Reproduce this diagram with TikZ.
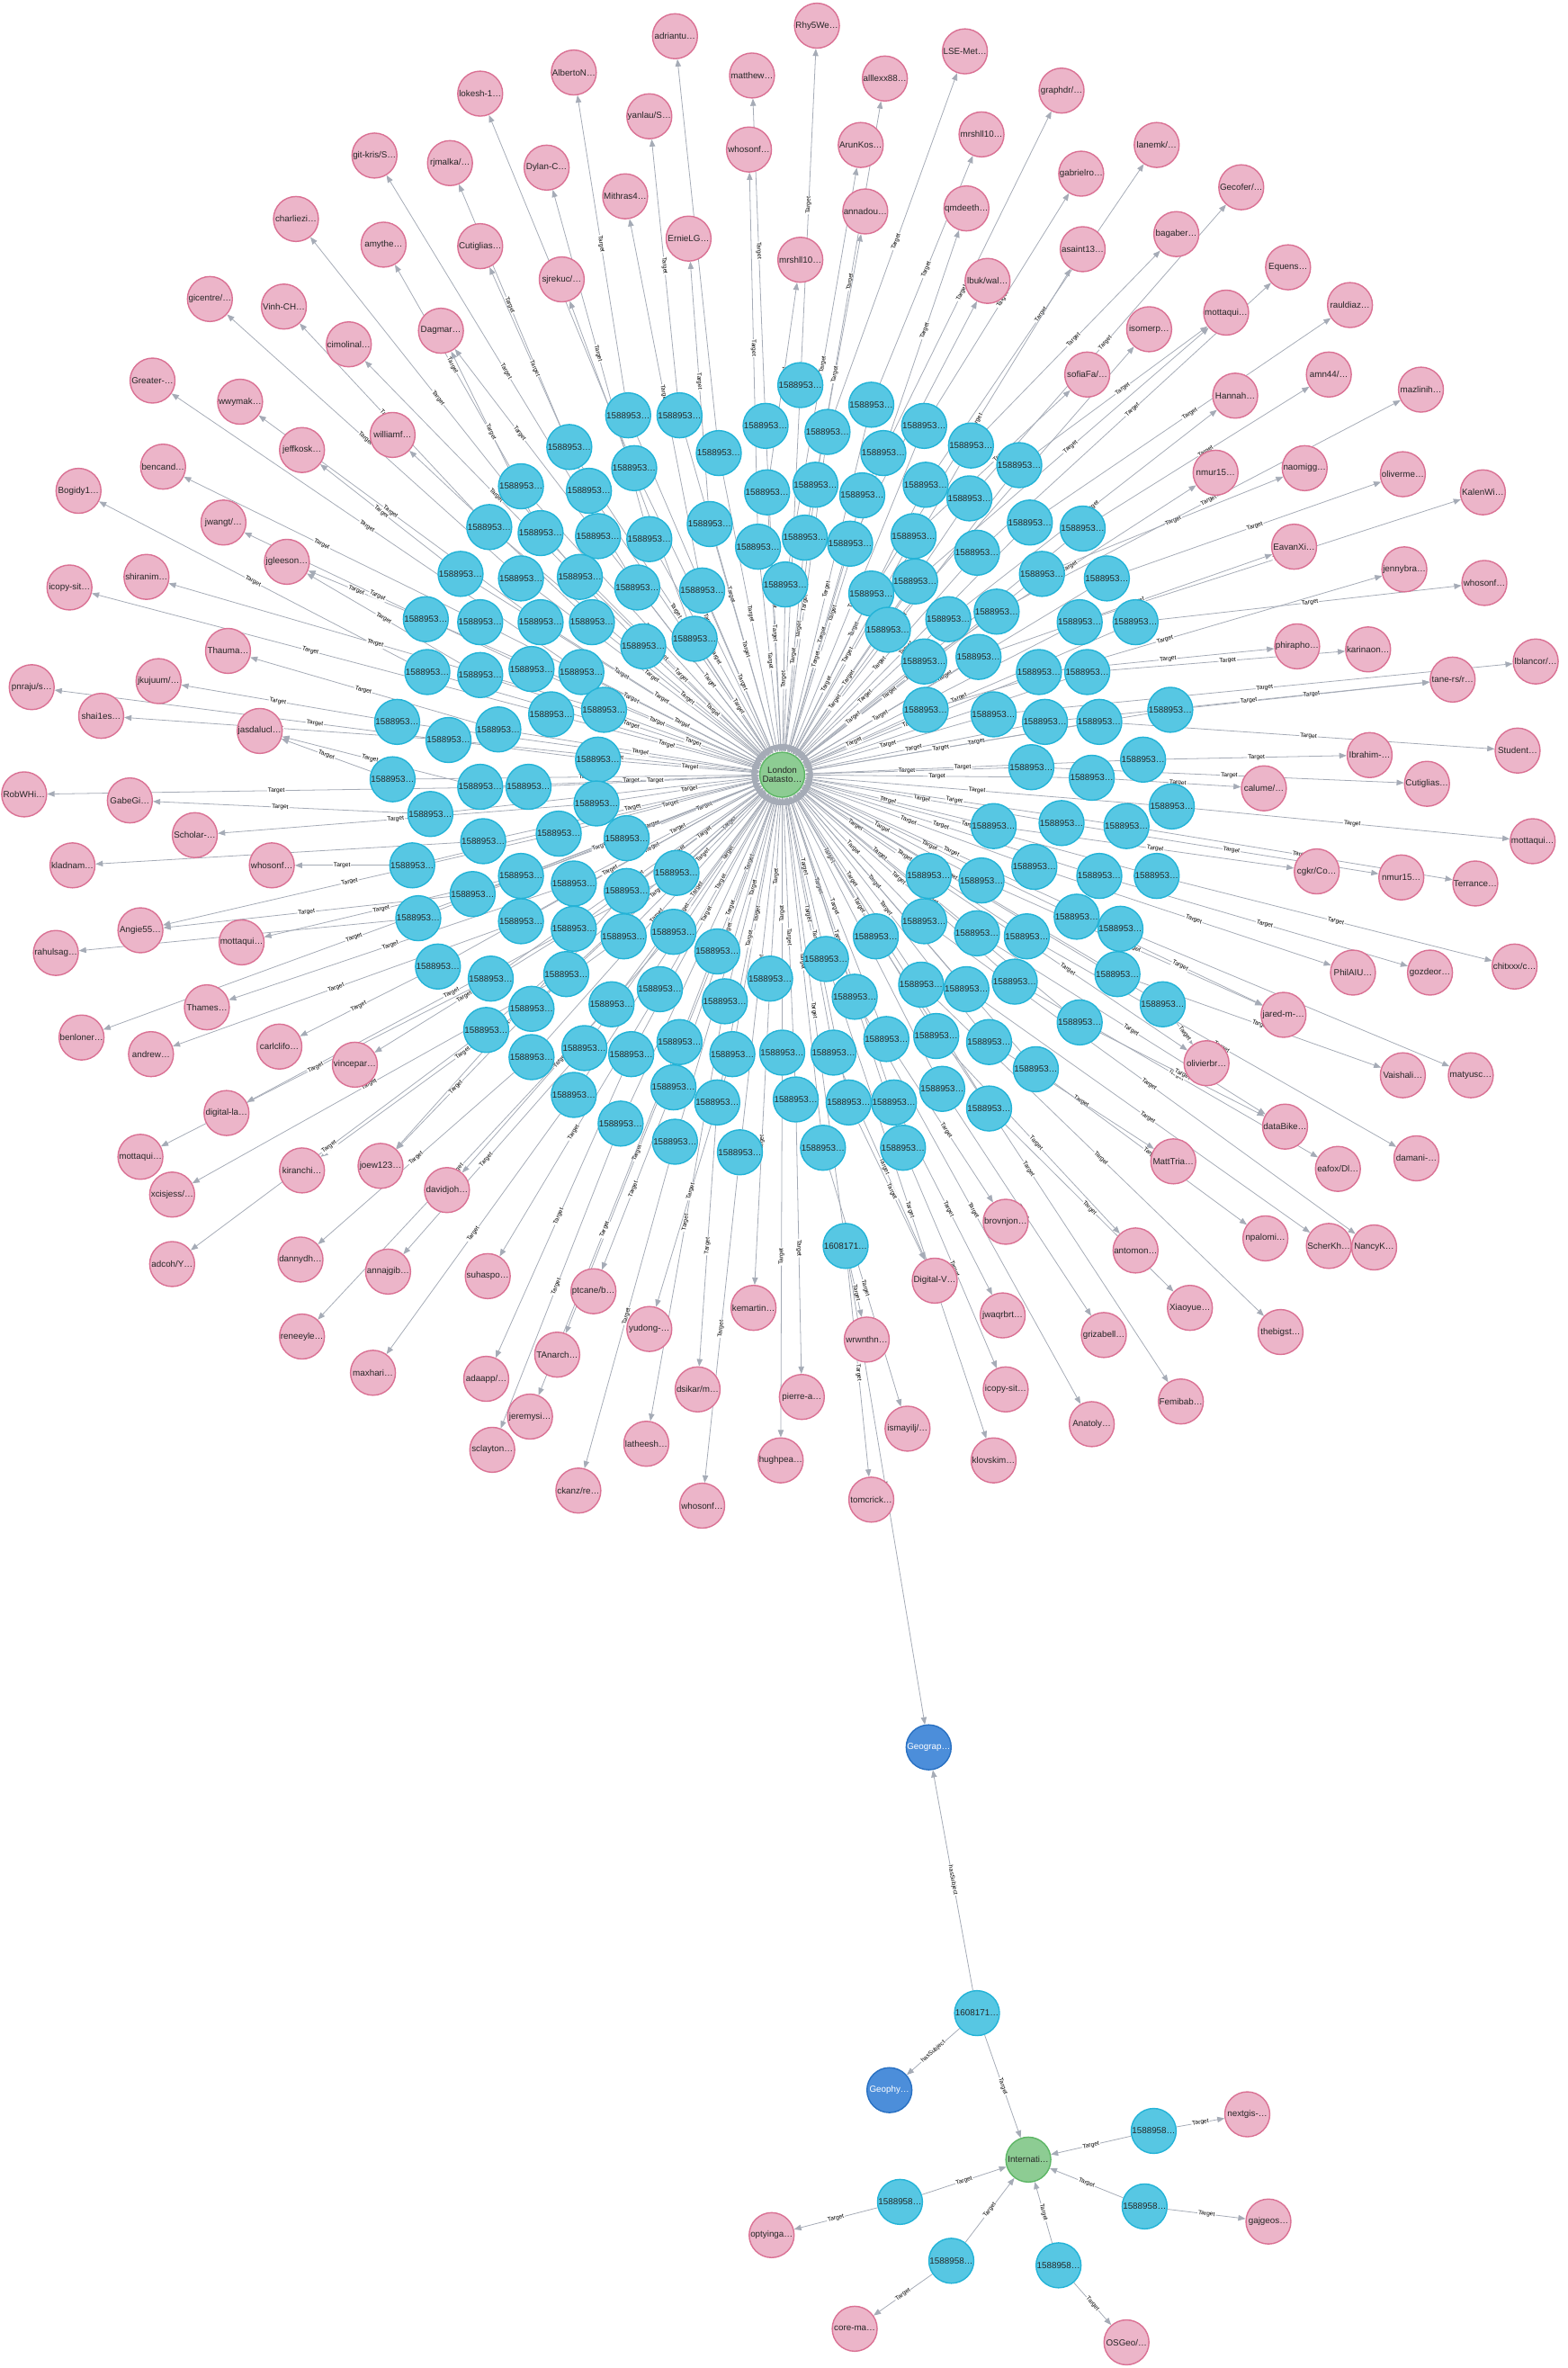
\documentclass[tikz,border=0pt]{standalone}
\usepackage{fontspec}
\setmainfont{Liberation Sans}
\usetikzlibrary{arrows.meta}
\pgfdeclarelayer{background}
\pgfsetlayers{background,main}

\definecolor{edgegray}{HTML}{A5ABB6}
\definecolor{ownerfill}{HTML}{ECB5C9}
\definecolor{ownerdraw}{HTML}{DA7194}
\definecolor{repofill}{HTML}{57C7E3}
\definecolor{repodraw}{HTML}{23B3D7}
\definecolor{hubfill}{HTML}{8DCC93}
\definecolor{hubdraw}{HTML}{5DB665}
\definecolor{topicfill}{HTML}{4C8EDA}
\definecolor{topicdraw}{HTML}{2870C2}

\begin{document}
\begin{tikzpicture}[
    x=0.0336cm, y=-0.0336cm,
    gnode/.style={
        circle,
        minimum size=1cm,
        inner sep=0pt,
        line width=0.8pt,
        font=\fontsize{5.6}{6}\selectfont,
        text=black!85
    },
    repo/.style={gnode, fill=repofill, draw=repodraw},
    owner/.style={gnode, fill=ownerfill, draw=ownerdraw},
    hub/.style={gnode, fill=hubfill, draw=hubdraw, align=center},
    topic/.style={gnode, fill=topicfill, draw=topicdraw, text=white},
    link/.style={draw=edgegray, line width=0.45pt, -{Triangle[length=4.6pt, width=3.6pt]}},
    lbl/.style={sloped, midway, fill=white, inner sep=0.5pt, text=black,
        font=\fontsize{3.8}{4}\selectfont}
]
\useasboundingbox (0,0) rectangle (1038,1568);

% Hub of the big star
\node[hub] (ld) at (518,513) {London\\Datasto…};

% Owners round the star
\foreach \x/\y/\t [count=\i] in {
    531/925/{pierre-a…}, 601/946/{ismayilj/…}, 619/848/{Digital-V…}, 658/967/{klovskim…},
    666/920/{icopy-sit…}, 664/871/{jwaqrbrt…}, 723/943/{Anatoly…}, 666/809/{brovnjon…},
    731/884/{grizabell…}, 782/928/{Femibab…}, 752/828/{antomon…}, 788/866/{Xiaoyue…},
    848/882/{thebigst…}, 777/769/{MattTria…}, 838/820/{npalomi…}, 880/825/{ScherKh…},
    910/826/{NancyK…}, 886/774/{eafox/Dl…}, 851/746/{dataBike…}, 799/704/{olivierbr…},
    938/767/{damani-…}, 929/712/{Vaishali…}, 850/672/{jared-m-…}, 974/712/{matyusc…},
    896/644/{PhilAIU…}, 947/644/{gozdeor…}, 1003/640/{chitxxx/c…}, 872/577/{cgkr/Co…},
    928/581/{nmur15…}, 977/585/{Terrance…}, 1015/557/{mottaqui…}, 837/522/{calume/…},
    945/519/{Cutiglias…}, 907/500/{Ibrahim-…}, 1005/497/{Student…}, 962/450/{tane-rs/r…},
    1017/438/{lblancor/…}, 906/430/{karinaon…}, 859/428/{phirapho…}, 983/386/{whosonf…},
    930/377/{jennybra…}, 982/326/{KalenWi…}, 857/362/{EavanXi…}, 929/314/{oliverme…},
    864/310/{naomigg…}, 941/258/{mazlinih…}, 805/313/{nmur15…}, 880/248/{amn44/…},
    894/202/{rauldiaz…}, 818/262/{Hannah…}, 853/177/{Equens…}, 812/207/{mottaqui…},
    761/218/{isomerp…}, 822/124/{Gecofer/…}, 720/248/{sofiaFa/…}, 779/155/{bagaber…},
    766/96/{lanemk/…}, 717/165/{asaint13…}, 716/115/{gabrielro…}, 654/186/{lbuk/wal…},
    703/60/{graphdr/…}, 640/138/{qmdeeth…}, 650/89/{mrshll10…}, 639/34/{LSE-Met…},
    586/52/{alllexx88…}, 573/140/{annadou…}, 570/96/{ArunKos…}, 541/17/{Rhy5We…},
    530/172/{mrshll10…}, 498/50/{matthew…}, 496/99/{whosonf…}, 447/24/{adriantu…},
    456/158/{ErnieLG…}, 430/77/{yanlau/S…}, 414/130/{Mithras4…}, 380/48/{AlbertoN…},
    362/111/{Dylan-C…}, 318/62/{lokesh-1…}, 372/185/{sjrekuc/…}, 298/108/{rjmalka/…},
    318/163/{Cutiglias…}, 248/103/{git-kris/S…}, 254/162/{amythe…}, 292/219/{Dagmar…},
    196/145/{charliezi…}, 231/228/{cimolinal…}, 188/203/{Vinh-CH…}, 260/288/{williamf…},
    139/198/{gicentre/…}, 159/266/{wwymak…}, 200/298/{jeffkosk…}, 101/252/{Greater-…},
    108/309/{bencand…}, 148/346/{jwangt/…}, 190/372/{jgleeson…}, 52/325/{Bogidy1…},
    97/382/{shiranim…}, 46/389/{icopy-sit…}, 151/431/{Thauma…}, 105/451/{jkujuum/…},
    21/455/{pnraju/s…}, 67/474/{shai1es…}, 172/484/{jasdalucl…}, 16/526/{RobWHi…},
    86/530/{GabeGi…}, 129/553/{Scholar-…}, 48/573/{kladnam…}, 180/573/{whosonf…},
    93/616/{Angie55…}, 37/631/{rahulsag…}, 160/624/{mottaqui…}, 54/687/{benloner…},
    137/667/{Thames…}, 100/698/{andrew…}, 185/693/{carlclifo…}, 93/766/{mottaqui…},
    150/737/{digital-la…}, 235/705/{vincepar…}, 114/791/{xcisjess/…}, 114/837/{adcoh/Y…},
    200/775/{kiranchi…}, 252/772/{joew123…}, 199/834/{dannydh…}, 200/885/{reneeyle…},
    296/788/{davidjoh…}, 257/842/{annajgib…}, 247/909/{maxhari…}, 323/845/{suhaspo…},
    322/913/{adaapp/…}, 326/960/{sclayton…}, 351/938/{jeremysi…}, 369/897/{TAnarch…},
    393/855/{ptcane/b…}, 383/987/{ckanz/re…}, 428/956/{latheesh…}, 462/920/{dsikar/m…},
    430/880/{yudong-…}, 465/997/{whosonf…}, 499/866/{kemartin…}, 517/967/{hughpea…},
    574/887/{wrwnthn…}, 577/993/{tomcrick…}}
    \node[owner] (p\i) at (\x,\y) {\t};

% Repositories, each with the owner it points to
\foreach \x/\y/\t [count=\i] in {
    530/255/68, 577/268/63, 416/275/76, 450/275/74, 507/282/70, 548/286/64, 612/282/59,
    643/295/56, 377/296/80, 345/322/83, 585/300/62, 476/300/72, 675/308/52, 420/310/78,
    390/325/81, 540/321/65, 508/326/69, 613/321/57, 571/328/61, 642/330/54, 324/349/87,
    358/353/84, 605/355/55, 470/347/73, 682/346/49, 717/350/48, 396/355/84, 533/356/66,
    430/357/77, 563/360/60, 647/366/51, 502/362/71, 305/380/91, 345/383/89, 384/382/85,
    422/389/82, 465/391/75, 690/380/45, 733/383/44, 520/387/67, 606/385/52, 577/393/58,
    282/410/95, 318/412/93, 358/412/90, 392/412/88, 588/417/53, 628/410/50, 660/405/46,
    715/412/42, 752/412/40, 426/428/86, 460/423/79, 283/445/96, 318/447/95, 352/443/94,
    385/445/92, 612/438/47, 648/435/43, 688/445/39, 720/445/38, 775/470/36, 658/473/37,
    263/478/100, 297/490/102, 330/483/99, 365/473/98, 400/470/97, 613/470/41, 692/478/36,
    728/478/35, 260/516/103, 396/503/101, 683/508/33, 723/515/32, 757/503/34, 776/534/31,
    285/539/105, 318/521/103, 350/521/104, 395/532/106, 658/547/28, 703/545/29,
    746/547/30, 320/557/107, 370/552/109, 415/555/112, 615/580/20, 650/583/23, 685/574/25,
    728/580/26, 766/580/27, 273/573/108, 345/580/111, 380/585/113, 448/578/117,
    680/620/21, 713/607/23, 277/608/110, 313/592/109, 345/610/114, 380/615/118,
    415/590/122, 612/610/17, 647/618/19, 742/615/24, 740/645/22, 290/640/115, 325/648/116,
    375/645/119, 413/620/121, 446/617/125, 475/630/132, 547/635/4, 580/620/10, 672/650/18,
    322/682/120, 352/668/122, 405/665/124, 437/655/128, 480/663/135, 510/648/139,
    566/660/7, 610/652/13, 640/655/16, 715/677/19, 770/665/20, 352/700/123, 387/694/126,
    418/698/129, 450/690/131, 485/698/137, 518/697/140, 552/697/3, 587/688/8, 620/686/11,
    655/690/14, 686/708/15, 380/725/127, 446/720/133, 475/730/136, 490/763/138,
    527/728/1, 562/730/3, 592/730/6, 624/721/9, 655/734/12, 411/744/130, 447/756/134,
    545/760/2, 598/760/5}
{
    \node[repo] (b\i) at (\x,\y) {1588953…};
    \begin{pgfonlayer}{background}
        \draw[link] (b\i) -- node[lbl] {Target} (ld);
        \draw[link] (b\i) -- node[lbl] {Target} (p\t);
    \end{pgfonlayer}
}

% The one repository that also has a subject
\node[repo] (ms) at (560,825) {1608171…};

% Lower cluster
\node[topic] (gg) at (615,1157) {Geograp…};
\node[repo] (sc) at (647,1333) {1608171…};
\node[topic] (gp) at (589,1384) {Geophy…};
\node[hub] (in) at (681,1430) {Internati…};

\node[repo] (i1) at (764,1411) {1588958…};
\node[repo] (i2) at (758,1461) {1588958…};
\node[repo] (i3) at (596,1458) {1588958…};
\node[repo] (i4) at (630,1497) {1588958…};
\node[repo] (i5) at (701,1500) {1588958…};

\node[owner] (q1) at (826,1400) {nextgis-…};
\node[owner] (q2) at (840,1471) {gajgeos…};
\node[owner] (q3) at (511,1480) {optyinga…};
\node[owner] (q4) at (566,1542) {core-ma…};
\node[owner] (q5) at (746,1551) {OSGeo/…};

\begin{pgfonlayer}{background}
    \draw[link] (ms) -- node[lbl] {Target} (ld);
    \draw[link] (ms) -- node[lbl] {Target} (p141);
    \draw[link] (ms) -- node[lbl] {Target} (p142);
    \draw[link] (ms) -- node[lbl] {hasSubject} (gg);

    \draw[link] (sc) -- node[lbl] {hasSubject} (gg);
    \draw[link] (sc) -- node[lbl] {hasSubject} (gp);
    \draw[link] (sc) -- node[lbl] {Target} (in);

    \foreach \k in {1,...,5} {
        \draw[link] (i\k) -- node[lbl] {Target} (in);
        \draw[link] (i\k) -- node[lbl] {Target} (q\k);
    }
\end{pgfonlayer}

\end{tikzpicture}
\end{document}
